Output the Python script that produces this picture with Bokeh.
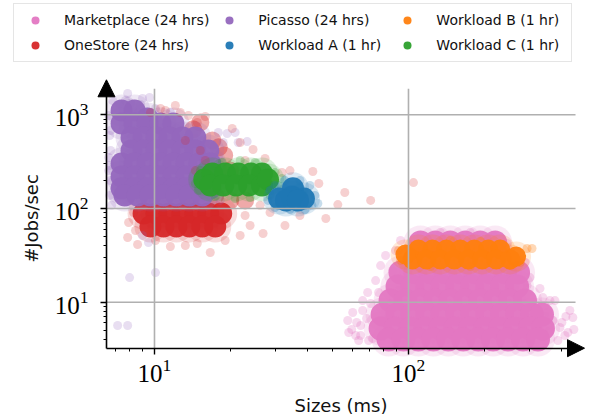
from bokeh.plotting import figure
from bokeh.models import Range1d, FixedTicker, Legend, LegendItem, Arrow, NormalHead
from bokeh.embed import file_html
from bokeh.resources import INLINE

# ---------------- data ----------------
series_names = ["Marketplace (24 hrs)", "OneStore (24 hrs)", "Picasso (24 hrs)",
                "Workload A (1 hr)", "Workload B (1 hr)", "Workload C (1 hr)"]
series_colors = ["#e377c2", "#d62728", "#9467bd", "#1f77b4", "#ff7f0e", "#2ca02c"]

x_major = [10, 100]
x_minor = [7, 8, 9, 20, 30, 40, 50, 60, 70, 80, 90, 200, 300, 400]
y_major = [10, 100, 1000]
y_minor = [4, 5, 6, 7, 8, 9, 20, 30, 40, 50, 60, 70, 80, 90,
           200, 300, 400, 500, 600, 700, 800, 900]

# Marketplace (24 hrs): dense body and sparse fringe  (size ms, jobs/sec)
marketplace_body = [
    (111.5, 43.4), (127.6, 43.4), (146.1, 43.4), (167.3, 43.4), (191.6, 43.4), (219.4, 43.4),
    (106.5, 29.3), (122.0, 29.3), (139.7, 29.3), (159.9, 29.3), (183.1, 29.3), (209.7, 29.3), (229.6, 29.3),
    (93.03, 20.7), (106.5, 20.7), (122.0, 20.7), (139.7, 20.7), (159.9, 20.7), (183.1, 20.7), (209.7, 20.7),
    (240.1, 20.7), (270.0, 20.7),
    (90.55, 14.7), (103.7, 14.7), (118.7, 14.7), (135.9, 14.7), (155.7, 14.7), (178.2, 14.7), (204.1, 14.7),
    (233.7, 14.7), (267.6, 14.7),
    (85.0, 10.4), (97.3, 10.4), (111.5, 10.4), (127.6, 10.4), (146.1, 10.4), (167.3, 10.4), (191.6, 10.4),
    (219.4, 10.4), (251.2, 10.4), (287.6, 10.4),
    (79.07, 7.39), (90.55, 7.39), (103.7, 7.39), (118.7, 7.39), (135.9, 7.39), (155.7, 7.39), (178.2, 7.39),
    (204.1, 7.39), (233.7, 7.39), (267.6, 7.39), (306.4, 7.39), (335.4, 7.39),
    (77.65, 5.24), (88.92, 5.24), (101.8, 5.24), (116.6, 5.24), (133.5, 5.24), (152.9, 5.24), (175.1, 5.24),
    (200.5, 5.24), (229.6, 5.24), (262.8, 5.24), (300.9, 5.24), (338.4, 5.24),
    (83.5, 4.0), (95.6, 4.0), (109.4, 4.0), (125.3, 4.0), (143.5, 4.0), (164.3, 4.0), (188.2, 4.0),
    (215.4, 4.0), (246.6, 4.0), (282.5, 4.0), (323.5, 4.0),
]
marketplace_fringe = [
    (57.66, 6.38), (58.18, 4.75), (59.78, 5.11), (68.4, 6.70), (69.07, 12.7), (70.96, 9.68), (63.67, 3.90),
    (61.97, 4.41), (64.8, 5.64), (74.24, 17.0), (77.65, 24.6), (81.25, 31.5), (88.92, 35.6), (93.03, 45.5),
    (111.5, 51.5), (133.5, 55.5), (175.1, 55.5), (215.4, 51.5), (244.5, 42.3), (267.6, 30.0), (287.6, 26.5),
    (300.9, 18.3), (329.3, 14.0), (338.4, 11.2), (344.6, 9.22), (370.4, 6.38), (431.8, 8.15), (443.7, 6.87),
    (394.6, 5.37), (412.8, 4.41), (416.6, 7.04), (447.7, 5.11), (387.5, 3.90), (72.25, 4.10), (66.0, 8.15),
    (360.5, 10.4), (354.0, 7.76), (76.27, 12.7), (86.56, 21.8), (262.8, 22.9), (292.9, 15.1), (77.65, 3.90),
    (344.6, 3.90), (60.32, 7.76), (62.53, 6.07), (66.0, 10.4), (69.66, 3.90), (64.8, 4.41),
    (377.2, 10.4), (401.8, 6.07), (424.2, 4.75), (360.5, 4.99),
]

# Workload B (1 hr)
workload_b_body = [
    (109.4, 36.5), (124.2, 36.5), (140.9, 36.5), (159.9, 36.5), (181.5, 36.5), (206.0, 36.5), (229.6, 36.5),
    (103.7, 28.6), (117.7, 28.6), (133.5, 28.6), (151.5, 28.6), (171.9, 28.6), (195.1, 28.6), (221.4, 28.6),
    (251.2, 28.6), (97.3, 32.3), (265.2, 30.7),
]
workload_b_fringe = [
    (91.38, 35.6), (292.9, 37.4), (306.4, 37.4), (274.9, 26.5), (146.1, 45.5), (191.6, 44.4),
    (122.0, 24.0), (175.1, 24.0), (93.03, 27.9), (251.2, 24.6),
]

# OneStore (24 hrs)
onestore_body = [
    (9.06, 88.4), (10.18, 88.4), (11.45, 88.4), (12.88, 88.4), (14.48, 88.4), (16.28, 88.4), (18.31, 88.4),
    (9.64, 64.3), (10.85, 64.3), (12.20, 64.3), (13.72, 64.3), (15.43, 64.3), (17.35, 64.3),
]
onestore_mid = [
    (15.15, 828), (16.89, 532), (18.81, 368), (19.86, 254), (17.35, 138), (19.86, 122), (22.74, 122),
    (13.84, 122), (17.9, 450), (14.2, 700),
]
onestore_fringe = [
    (24.44, 426), (31.77, 242), (42.02, 248), (44.36, 185), (52.7, 110), (47.27, 78.2), (26.76, 54.1),
    (16.58, 33.9), (14.74, 42.3), (11.55, 39.3), (8.58, 41.3), (7.84, 49.0), (8.27, 90.6), (13.60, 984),
    (14.74, 828), (56.14, 148), (70.96, 122), (104.6, 189), (9.64, 1058), (11.04, 1112), (12.64, 1058),
    (15.85, 959), (22.74, 84.2), (23.79, 65.9), (21.74, 51.5), (18.98, 45.5), (13.23, 40.3), (10.09, 45.5),
    (8.42, 58.2), (7.91, 70.9), (26.04, 108), (28.51, 90.6), (27.25, 342), (22.74, 325), (21.74, 506),
    (20.23, 714), (12.08, 1257), (10.56, 1167), (34.15, 254), (37.38, 84.2), (32.64, 65.9),
    (14.48, 254), (15.85, 325), (15.15, 416), (16.58, 209), (13.23, 532),
]

# Picasso (24 hrs)
picasso_body = [
    (7.42, 1112), (8.35, 1112), (9.39, 913),
    (7.42, 807), (8.35, 807), (9.39, 807), (10.56, 807), (11.87, 807),
    (8.12, 573), (9.06, 573), (10.18, 573), (11.45, 573), (12.88, 573), (14.48, 573),
    (8.12, 416), (9.06, 416), (10.18, 416), (11.45, 416), (12.88, 416), (14.48, 416), (16.28, 416),
    (7.42, 302), (8.35, 302), (9.39, 302), (10.56, 302), (11.87, 302), (13.35, 302), (15.02, 302), (16.58, 302),
    (7.42, 220), (8.35, 220), (9.39, 220), (10.56, 220), (11.87, 220), (13.35, 220), (15.02, 220), (16.58, 220),
    (7.42, 164), (8.35, 164), (9.39, 164), (10.56, 164), (11.87, 164), (13.35, 164), (15.02, 164), (16.58, 164),
    (7.63, 138), (8.58, 138), (9.64, 138), (10.85, 138), (12.20, 138), (13.72, 138), (15.43, 138),
]
picasso_fringe = [
    (6.84, 1422), (7.84, 1688), (8.97, 1493), (9.56, 1530), (7.30, 1300), (8.05, 1330),
    (17.83, 647), (19.33, 631), (20.78, 647), (18.65, 506), (21.35, 506), (23.16, 519),
    (6.60, 350), (7.03, 168), (7.16, 131), (6.72, 680), (6.60, 254), (8.97, 51.5), (9.47, 43.4),
    (7.98, 18.3), (10.09, 20.7), (7.16, 5.64), (7.84, 5.64), (18.15, 325), (18.48, 176), (18.15, 122),
    (6.60, 984), (6.66, 601), (6.72, 416), (6.66, 288), (6.72, 199), (6.66, 138), (6.78, 108),
    (7.69, 1422), (8.81, 1288), (10.09, 1167), (11.55, 1058),
]

# Workload C (1 hr)
workload_c_body = [
    (15.70, 204), (16.89, 236), (18.98, 236), (21.35, 236), (24.01, 236), (26.51, 236),
    (16.58, 176), (18.65, 176), (20.97, 176), (23.58, 176), (26.51, 176), (27.99, 204),
]
workload_c_fringe = [
    (14.48, 185), (14.88, 156), (15.15, 254), (29.82, 242), (30.64, 176), (28.51, 138), (24.89, 310),
    (21.74, 325), (18.48, 310), (17.35, 134), (20.78, 128), (23.79, 131), (31.77, 209),
]

# Workload A (1 hr)
workload_a_body = [
    (30.93, 128), (34.77, 134), (38.76, 128), (35.09, 164), (32.93, 122), (36.71, 122),
]
workload_a_fringe = [
    (27.99, 122), (28.51, 156), (29.82, 176), (37.38, 199), (40.92, 176), (42.81, 138), (43.97, 113),
    (32.64, 199), (34.15, 97.6), (39.11, 97.6), (29.82, 102.5), (41.65, 108),
]

# axis spans (spine ends, where the arrow heads sit) and arrow tips
X_AXIS = (6.47, 454.6)
Y_AXIS = (3.23, 1892.0)
X_TIP = 493.2
Y_TIP = 2363.0
# full canvas extent in data units (the frame covers the whole picture)
X_VIEW = (2.476, 516.0)
Y_VIEW = (0.5462, 16590.0)

SANS = "DejaVu Sans"
SERIF = "Liberation Serif"

p = figure(width=589, height=420, x_axis_type="log", y_axis_type="log",
           x_range=Range1d(*X_VIEW), y_range=Range1d(*Y_VIEW),
           output_backend="svg", toolbar_location=None, min_border=0)
p.outline_line_color = None
p.background_fill_color = "white"
p.border_fill_color = "white"
p.xgrid.visible = False
p.ygrid.visible = False

p.xaxis.fixed_location = Y_AXIS[0]
p.yaxis.fixed_location = X_AXIS[0]
p.xaxis.bounds = X_AXIS
p.yaxis.bounds = Y_AXIS

for ax, major, minor in ((p.xaxis, x_major, x_minor), (p.yaxis, y_major, y_minor)):
    ax.ticker = FixedTicker(ticks=major, minor_ticks=minor)
    ax.axis_line_color = "black"
    ax.axis_line_width = 1.6
    ax.major_tick_line_color = "black"
    ax.major_tick_line_width = 1.4
    ax.minor_tick_line_color = "black"
    ax.minor_tick_line_width = 1.0
    ax.major_tick_out = 6
    ax.major_tick_in = 0
    ax.minor_tick_out = 3
    ax.minor_tick_in = 0
    ax.major_label_text_font = SERIF
    ax.major_label_text_font_size = "25px"
    ax.major_label_text_color = "black"
    ax.axis_label_text_font = SANS
    ax.axis_label_text_font_size = "18px"
    ax.axis_label_text_font_style = "normal"
    ax.axis_label_text_color = "#111111"

p.xaxis.axis_label = "Sizes (ms)"
p.yaxis.axis_label = "#Jobs/sec"
p.xaxis.major_label_standoff = 5
p.yaxis.major_label_standoff = 12
p.xaxis.axis_label_standoff = 9
p.yaxis.axis_label_standoff = 10


def cloud(points, color, size, alpha):
    xs = [pt[0] for pt in points]
    ys = [pt[1] for pt in points]
    return p.scatter(x=xs, y=ys, marker="circle", size=size,
                     fill_color=color, fill_alpha=alpha, line_color=None)


def dense(points, color, size):
    # soft translucent rim first, then the saturated core
    cloud(points, color, size + 10, 0.16)
    return cloud(points, color, size, 0.95)


C = dict(zip(series_names, series_colors))
body = {}
cloud(marketplace_fringe, C["Marketplace (24 hrs)"], 9, 0.28)
body["Marketplace (24 hrs)"] = dense(marketplace_body, C["Marketplace (24 hrs)"], 24)
cloud(workload_b_fringe, C["Workload B (1 hr)"], 9, 0.3)
body["Workload B (1 hr)"] = dense(workload_b_body, C["Workload B (1 hr)"], 20)
body["OneStore (24 hrs)"] = dense(onestore_body, C["OneStore (24 hrs)"], 22)
cloud(onestore_mid, C["OneStore (24 hrs)"], 18, 0.4)
cloud(picasso_fringe, C["Picasso (24 hrs)"], 9, 0.22)
body["Picasso (24 hrs)"] = dense(picasso_body, C["Picasso (24 hrs)"], 22)
cloud(onestore_fringe, C["OneStore (24 hrs)"], 9, 0.22)
cloud(workload_c_fringe, C["Workload C (1 hr)"], 9, 0.25)
body["Workload C (1 hr)"] = dense(workload_c_body, C["Workload C (1 hr)"], 22)
cloud(workload_a_fringe, C["Workload A (1 hr)"], 9, 0.25)
body["Workload A (1 hr)"] = dense(workload_a_body, C["Workload A (1 hr)"], 22)

# grid lines (drawn over the points, as in the reference), spanning the spines
GRID = "#b0b0b0"
p.segment(x0=x_major, x1=x_major, y0=[Y_AXIS[0]] * len(x_major), y1=[Y_AXIS[1]] * len(x_major),
          line_color=GRID, line_width=1.6)
p.segment(x0=[X_AXIS[0]] * len(y_major), x1=[X_AXIS[1]] * len(y_major), y0=y_major, y1=y_major,
          line_color=GRID, line_width=1.6)

# arrow heads on the axis ends
p.add_layout(Arrow(end=NormalHead(size=17, fill_color="black", line_color="black"),
                   x_start=X_AXIS[0], y_start=Y_AXIS[1], x_end=X_AXIS[0], y_end=Y_TIP,
                   line_color="black", line_width=1.6))
p.add_layout(Arrow(end=NormalHead(size=17, fill_color="black", line_color="black"),
                   x_start=X_AXIS[1], y_start=Y_AXIS[0], x_end=X_TIP, y_end=Y_AXIS[0],
                   line_color="black", line_width=1.6))

# legend (3 columns x 2 rows)
items = [LegendItem(label=name, renderers=[body[name]]) for name in series_names]
legend = Legend(items=items, location=(13, 358), orientation="vertical", nrows=2,
                glyph_width=30, glyph_height=20, label_height=20, label_width=129,
                label_standoff=14, spacing=5, padding=6, margin=0,
                label_text_font=SANS, label_text_font_size="14px", label_text_color="#111111",
                border_line_color="#cccccc", border_line_width=1.5,
                background_fill_color="white", background_fill_alpha=1.0)
p.add_layout(legend, "center")

open("out.html", "w").write(file_html(p, INLINE))
